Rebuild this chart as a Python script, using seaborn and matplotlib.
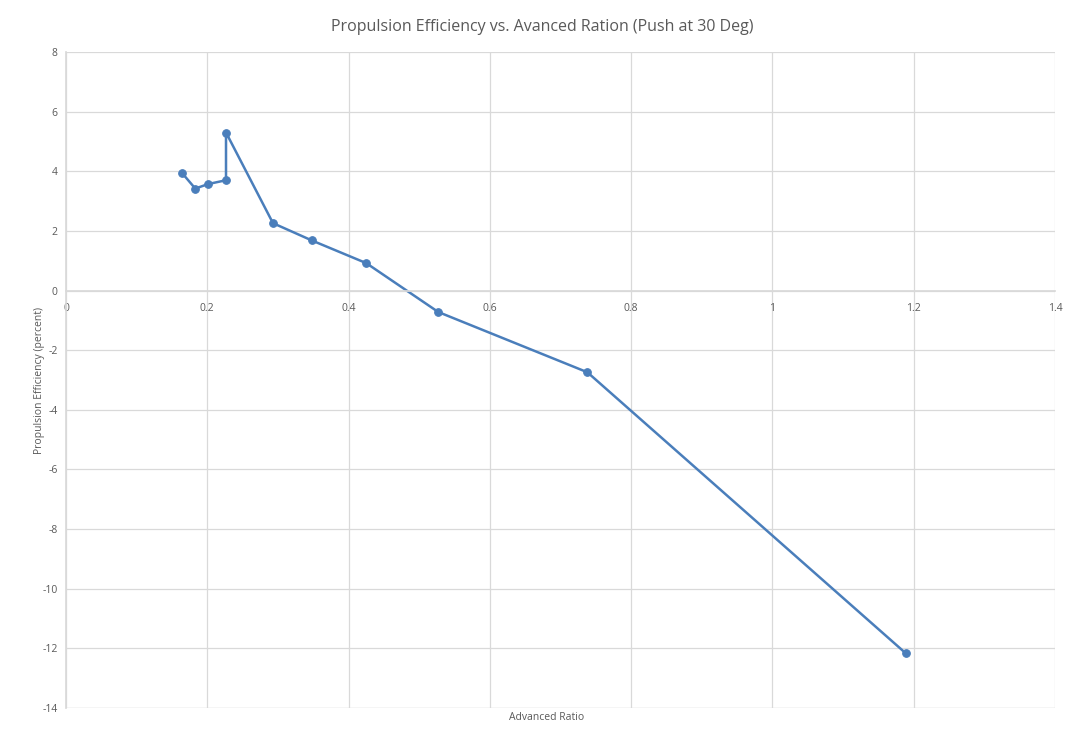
import matplotlib
matplotlib.use("Agg")
import matplotlib.pyplot as plt
import seaborn as sns
import pandas as pd

advanced_ratio = [0.164, 0.183, 0.201, 0.2265, 0.2265, 0.293, 0.348, 0.425, 0.527, 0.738, 1.189]
efficiency = [3.95, 3.42, 3.57, 3.70, 5.30, 2.26, 1.68, 0.92, -0.72, -2.74, -12.17]
x_ticks = [0, 0.2, 0.4, 0.6, 0.8, 1, 1.2, 1.4]
x_tick_labels = ["0", "0.2", "0.4", "0.6", "0.8", "1", "1.2", "1.4"]
y_ticks = [8, 6, 4, 2, 0, -2, -4, -6, -8, -10, -12, -14]

df = pd.DataFrame({"x": advanced_ratio, "y": efficiency})

sns.set_theme(style="white")
plt.rcParams['font.family'] = ['Open Sans', 'DejaVu Sans']
plt.rcParams['axes.unicode_minus'] = False

fig = plt.figure(figsize=(10.7, 7.4), dpi=100)
ax = fig.add_axes([66/1070, 1 - 708/740, (1055-66)/1070, (708-52)/740])

blue = "#4A7EBB"
sns.lineplot(data=df, x="x", y="y", sort=False, estimator=None, errorbar=None, ax=ax,
             color=blue, linewidth=1.8, marker="o", markersize=5.5,
             markeredgecolor=blue, markerfacecolor=blue)

ax.set_xlim(0, 1.4)
ax.set_ylim(-14, 8)
ax.set_xticks(x_ticks)
ax.set_xticklabels(x_tick_labels)
ax.set_yticks(y_ticks)
ax.set_yticklabels([str(v) for v in y_ticks])

grid_c = "#D9D9D9"
ax.grid(True, color=grid_c, linewidth=0.9)
ax.set_axisbelow(True)
for s in ["top", "right"]:
    ax.spines[s].set_visible(False)
ax.spines["bottom"].set_position(("data", 0))
ax.spines["bottom"].set_color(grid_c)
ax.spines["left"].set_color(grid_c)
ax.axhline(-14, color=grid_c, linewidth=0.9, zorder=0)

ax.tick_params(axis="both", length=0, labelsize=7.5, colors="#595959", pad=6)
ax.tick_params(axis="x", pad=9)

ax.set_xlabel("")
ax.set_ylabel("Propulsion Efficiency (percent)", fontsize=7.5, color="#595959", labelpad=-2)
fig.text(547/1070, 1 - 718/740, "Advanced Ratio", ha="center", va="center", fontsize=7.5, color="#595959")
fig.text(542/1070, 1 - 27/740, "Propulsion Efficiency vs. Avanced Ration (Push at 30 Deg)",
         ha="center", va="center", fontsize=11.5, color="#595959")

fig.savefig("out.png", dpi=100)
